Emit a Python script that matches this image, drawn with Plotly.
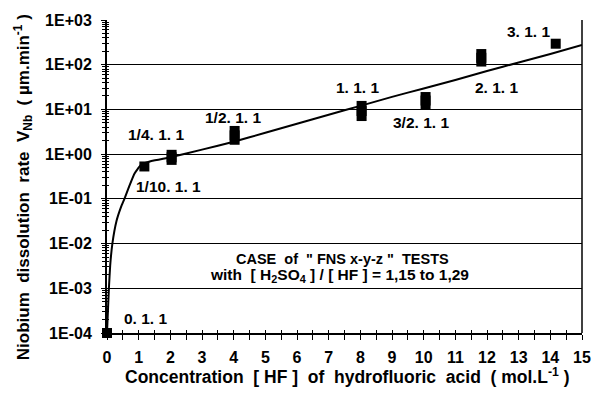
import plotly.graph_objects as go

# ---------------- data ----------------
conc = [0.0, 1.18, 2.04, 4.03, 8.04, 10.06, 11.82, 14.17]
rate = [1e-4, 0.53, 0.85, 2.63, 9.2, 15.8, 143.0, 295.0]
rate_lo = [1e-4, 0.53, 0.575, 1.62, 5.5, 10.2, 91.0, 295.0]
rate_hi = [1e-4, 0.53, 1.25, 4.27, 15.5, 24.5, 224.0, 295.0]
labels = ["0. 1. 1", "1/10. 1. 1", "1/4. 1. 1", "1/2. 1. 1",
          "1. 1. 1", "3/2. 1. 1", "2. 1. 1", "3. 1. 1"]

curve_x = [0, 0.03, 0.06, 0.1, 0.17, 0.3, 0.45, 0.55, 0.7, 0.87, 1.07, 1.4,
           2.0, 3.0, 4.0, 5.0, 6.0, 7.0, 8.0, 9.0, 10.0, 11.0, 12.0, 13.0,
           14.0, 15.0]
curve_y = [1e-4, 3.2e-4, 1e-3, 3.2e-3, 1e-2, 3.2e-2, 0.068, 0.1, 0.19, 0.37,
           0.57, 0.7, 0.85, 1.26, 1.9, 3.0, 4.8, 7.6, 12.0, 19.1, 29.5, 45.7,
           72.4, 112.0, 174.0, 275.0]

y_tickvals = [1e-4, 1e-3, 1e-2, 1e-1, 1e0, 1e1, 1e2, 1e3]
y_ticktext = ["1E-04", "1E-03", "1E-02", "1E-01", "1E+00", "1E+01", "1E+02", "1E+03"]
x_tickvals = list(range(0, 16))
x_ticktext = [str(v) for v in x_tickvals]

# label placement (x in data units, y in log10 units)
label_x = [1.23, 1.95, 1.56, 3.97, 7.92, 9.92, 12.29, 13.32]
label_logy = [-3.665, -0.73, 0.43, 0.81, 1.48, 0.70, 1.50, 2.74]

# ---------------- figure ----------------
FONT = "Liberation Sans, Arial, sans-serif"
y_minor = [m * d for d in y_tickvals[:-1] for m in range(2, 10)]

fig = go.Figure()

fig.add_trace(go.Scatter(
    x=curve_x, y=curve_y, mode="lines",
    line=dict(color="black", width=2, shape="spline", smoothing=0.4),
    hoverinfo="skip", showlegend=False))

err_plus = [h - r for h, r in zip(rate_hi, rate)]
err_minus = [r - l for r, l in zip(rate, rate_lo)]
fig.add_trace(go.Scatter(
    x=conc, y=rate, mode="markers",
    marker=dict(symbol="square", size=10, color="black"),
    error_y=dict(type="data", symmetric=False, array=err_plus,
                 arrayminus=err_minus, thickness=10, width=0, color="black"),
    cliponaxis=False, showlegend=False))

# overlay axes: inner half of the crossing tick marks
fig.add_trace(go.Scatter(x=[], y=[], xaxis="x2", yaxis="y2",
                         showlegend=False, hoverinfo="skip"))

tickfont = dict(family=FONT, size=16, color="black", weight="bold")

fig.update_layout(
    width=600, height=394,
    margin=dict(l=107, r=9, t=20, b=61),
    paper_bgcolor="white", plot_bgcolor="white",
    showlegend=False,
    xaxis=dict(range=[0, 15], tickmode="array", tickvals=x_tickvals,
               ticktext=x_ticktext, ticks="outside", ticklen=5, tickwidth=1,
               tickcolor="black",
               minor=dict(dtick=0.5, tick0=0, ticks="outside", ticklen=5,
                          tickcolor="black", showgrid=False),
               showline=True, linecolor="black", linewidth=2,
               showgrid=False, zeroline=False, tickfont=tickfont,
               ticklabelstandoff=4),
    yaxis=dict(type="log", range=[-4, 3], tickmode="array",
               tickvals=y_tickvals, ticktext=y_ticktext,
               ticks="outside", ticklen=4, tickwidth=1, tickcolor="black",
               minor=dict(tickmode="array", tickvals=y_minor, ticks="outside",
                          ticklen=3, tickcolor="black", showgrid=False),
               showline=True, linecolor="black", linewidth=2,
               showgrid=True, gridcolor="black", gridwidth=1,
               zeroline=False, tickfont=tickfont, ticklabelstandoff=6),
    xaxis2=dict(overlaying="x", anchor="y2", range=[0, 15], dtick=0.5, tick0=0,
                ticks="inside", ticklen=3, tickcolor="black",
                showticklabels=False, showgrid=False, showline=False,
                zeroline=False),
    yaxis2=dict(overlaying="y", anchor="x2", type="log", range=[-4, 3],
                tickmode="array", tickvals=y_tickvals, ticks="inside",
                ticklen=3, tickcolor="black",
                minor=dict(tickmode="array", tickvals=y_minor, ticks="inside",
                           ticklen=2, tickcolor="black", showgrid=False),
                showticklabels=False, showgrid=False, showline=False,
                zeroline=False),
)

# right border
fig.add_shape(type="line", xref="paper", yref="paper", x0=1, x1=1, y0=0, y1=1,
              line=dict(color="black", width=1.5))

lblfont = dict(family=FONT, size=15.5, color="black", weight="bold")
for t, lx, ly in zip(labels, label_x, label_logy):
    fig.add_annotation(x=lx, y=ly, xref="x", yref="y", text=t,
                       showarrow=False, font=lblfont,
                       xanchor="center", yanchor="middle")

nb = "\u00a0"
fig.add_annotation(xref="paper", yref="paper", x=0.496, y=0.237,
                   text=f"CASE{nb}{nb}of{nb}{nb}\"{nb}FNS{nb}x-y-z{nb}\"{nb}{nb}TESTS",
                   showarrow=False,
                   font=dict(family=FONT, size=14.5, color="black", weight="bold"),
                   xanchor="center", yanchor="middle")
fig.add_annotation(xref="paper", yref="paper", x=0.49, y=0.183,
                   text=f"with{nb}{nb}[{nb}H<sub>2</sub>SO<sub>4</sub>{nb}]{nb}/{nb}[{nb}HF{nb}]{nb}={nb}1,15{nb}to{nb}1,29",
                   showarrow=False,
                   font=dict(family=FONT, size=15.5, color="black", weight="bold"),
                   xanchor="center", yanchor="middle")

fig.add_annotation(xref="paper", yref="paper", x=0.506, y=-0.138,
                   text=f"Concentration{nb}{nb}[{nb}HF{nb}]{nb}{nb}of{nb}{nb}hydrofluoric{nb}{nb}acid{nb}{nb}({nb}mol.L<sup>-1</sup>{nb})",
                   showarrow=False,
                   font=dict(family=FONT, size=17.5, color="black", weight="bold"),
                   xanchor="center", yanchor="middle")
fig.add_annotation(xref="paper", yref="paper", x=-0.176, y=0.467, textangle=-90,
                   text=f"Niobium{nb}{nb}dissolution{nb}{nb}rate{nb}{nb}V<sub>Nb</sub>{nb}{nb}({nb}µm.min<sup>-1</sup>{nb})",
                   showarrow=False,
                   font=dict(family=FONT, size=17, color="black", weight="bold"),
                   xanchor="center", yanchor="middle")

fig.write_html("out.html")
